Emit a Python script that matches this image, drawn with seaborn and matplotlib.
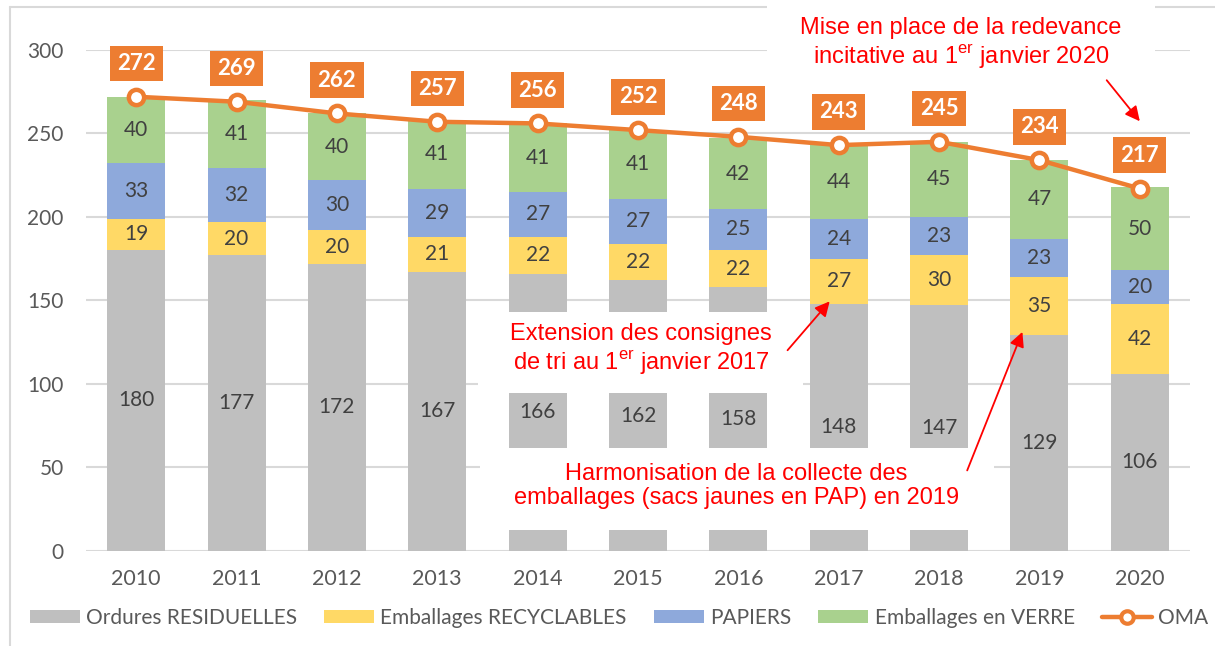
import numpy as np
import pandas as pd
import matplotlib
matplotlib.use("Agg")
import matplotlib.pyplot as plt
from matplotlib.patches import Rectangle, Patch
from matplotlib.lines import Line2D
import seaborn as sns

# ---------------- data ----------------
years = ["2010", "2011", "2012", "2013", "2014", "2015", "2016", "2017", "2018", "2019", "2020"]
ordures = [180, 177, 172, 167, 166, 162, 158, 148, 147, 129, 106]
recyclables = [19, 20, 20, 21, 22, 22, 22, 27, 30, 35, 42]
papiers = [33, 32, 30, 29, 27, 27, 25, 24, 23, 23, 20]
verre = [40, 41, 40, 41, 41, 41, 42, 44, 45, 47, 50]
oma = [272, 269, 262, 257, 256, 252, 248, 243, 245, 234, 217]

series_names = ["Ordures RESIDUELLES", "Emballages RECYCLABLES", "PAPIERS", "Emballages en VERRE"]
line_name = "OMA"

note_2020 = "Mise en place de la redevance\nincitative au 1$^{\\mathregular{er}}$ janvier 2020"
note_2017 = "Extension des consignes\nde tri au 1$^{\\mathregular{er}}$ janvier 2017"
note_2019 = "Harmonisation de la collecte des\nemballages (sacs jaunes en PAP) en 2019"

# ---------------- style ----------------
colors = ["#BFBFBF", "#FFD966", "#8EA9DB", "#A9D18E"]
orange = "#ED7D31"
label_col = "#404040"
tick_col = "#595959"
grid_col = "#D9D9D9"
red = "#FF0000"

sns.set_theme(style="white")
plt.rcParams["font.family"] = ["Lato", "DejaVu Sans"]

fig = plt.figure(figsize=(12.15, 6.46), dpi=100)
ax = fig.add_axes([86 / 1215, 95.3 / 646, 1104 / 1215, 500.7 / 646])

layers = [ordures, recyclables, papiers, verre]
cum = np.cumsum(np.array(layers), axis=0)
df = pd.DataFrame({"year": years})

# draw stacked bars from the top layer down (overlapping cumulative totals)
for k in range(len(layers) - 1, -1, -1):
    df["v"] = cum[k]
    sns.barplot(data=df, x="year", y="v", color=colors[k], width=0.577,
                saturation=1, errorbar=None, ax=ax, zorder=2, linewidth=0)

ax.set_xlim(-0.5, len(years) - 0.5)
ax.set_ylim(0, 300)
ax.set_yticks(np.arange(0, 301, 50))
ax.set_xlabel("")
ax.set_ylabel("")
for s in ax.spines.values():
    s.set_visible(False)
ax.grid(axis="y", color=grid_col, linewidth=1.5, zorder=0)
ax.set_axisbelow(True)
ax.tick_params(axis="y", length=0, pad=16, labelsize=15, labelcolor=tick_col)
ax.tick_params(axis="x", length=0, pad=13, labelsize=15.5, labelcolor=tick_col)

# white annotation backgrounds (text boxes)
ax.add_patch(Rectangle((3.41, 94.5), 3.23, 48.7, facecolor="white", edgecolor="none", zorder=3))
ax.add_patch(Rectangle((3.43, 12.4), 5.12, 49.1, facecolor="white", edgecolor="none", zorder=3))
ax.add_patch(Rectangle((6.285, 279), 3.865, 49, facecolor="white", edgecolor="none", zorder=3,
                       clip_on=False))

# segment labels
pos = np.arange(len(years))
for k in range(len(layers)):
    bottoms = cum[k] - np.array(layers[k])
    for i, v in enumerate(layers[k]):
        ax.text(pos[i], bottoms[i] + v / 2, f"{v}", ha="center", va="center",
                fontsize=15, color=label_col, zorder=4)

# OMA line
sns.lineplot(x=pos, y=oma, color=orange, linewidth=3.2, marker="o", markersize=11,
             markerfacecolor="white", markeredgecolor=orange, markeredgewidth=3.2,
             ax=ax, zorder=5, legend=False)
for i, v in enumerate(oma):
    ax.annotate(f"{v}", (pos[i], v), xytext=(0, 24), textcoords="offset points",
                ha="center", va="center", fontsize=16, fontweight="bold", color="white",
                bbox=dict(boxstyle="square,pad=0.33", facecolor=orange, edgecolor="none"),
                zorder=6, annotation_clip=False)

# red notes
txt_kw = dict(ha="center", va="center", fontsize=17, color=red, zorder=7,
              family=["Liberation Sans", "DejaVu Sans"], linespacing=1.15)
ax.text(8.22, 303.6, note_2020, clip_on=False, **txt_kw)
ax.text(5.03, 120.5, note_2017, **txt_kw)
ax.text(5.98, 38.8, note_2019, **txt_kw)

arr = dict(arrowstyle="-|>", color=red, lw=1.3, mutation_scale=22, shrinkA=0, shrinkB=0)
ax.annotate("", xy=(10.0, 257.3), xytext=(9.67, 281.9), arrowprops=arr, zorder=7,
            annotation_clip=False)
ax.annotate("", xy=(6.91, 149.4), xytext=(6.49, 120.1), arrowprops=arr, zorder=7)
ax.annotate("", xy=(8.83, 131.1), xytext=(8.28, 48.1), arrowprops=arr, zorder=7)

# legend
handles = [Patch(facecolor=c, edgecolor="none") for c in colors]
handles.append(Line2D([0], [0], color=orange, lw=3.2, marker="o", markersize=9,
                      markerfacecolor="white", markeredgecolor=orange, markeredgewidth=3))
fig.legend(handles, series_names + [line_name], loc="center", ncol=5,
           bbox_to_anchor=(619 / 1215, 1 - 618 / 646), frameon=False,
           fontsize=15, labelcolor=tick_col, handlelength=2.4, handleheight=0.53,
           handletextpad=0.3, columnspacing=1.3)

# chart border (left and top visible)
fig.add_artist(Line2D([10 / 1215, 10 / 1215], [0, 1 - 7 / 646], color=grid_col, lw=1.5,
                      transform=fig.transFigure, zorder=0))
fig.add_artist(Line2D([10 / 1215, 1], [1 - 7 / 646, 1 - 7 / 646], color=grid_col, lw=1.5,
                      transform=fig.transFigure, zorder=0))

fig.savefig("out.png", dpi=100, facecolor="white")
